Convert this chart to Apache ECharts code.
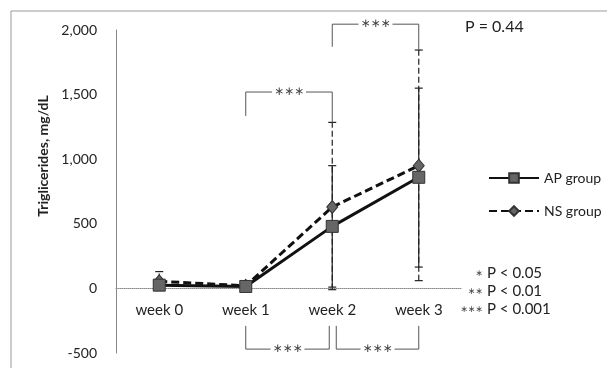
<!DOCTYPE html>
<html>
<head>
<meta charset="utf-8">
<script src="https://cdn.jsdelivr.net/npm/echarts@6/dist/echarts.min.js"></script>
<style>html,body{margin:0;padding:0;background:#fff}#c{width:607px;height:368px}</style>
</head>
<body>
<div id="c"></div>
<script>
const categories = ['week 0', 'week 1', 'week 2', 'week 3'];
const apMean = [25, 15, 480, 860];
const nsMean = [55, 20, 630, 950];
const apUpper = [60, 30, 950, 1550];
const apLower = [0, 5, 10, 165];
const nsUpper = [130, 40, 1285, 1845];
const nsLower = [0, 0, -10, 60];
const yTicks = [-500, 0, 500, 1000, 1500, 2000];
// significance brackets: from category, to category, bar level, left leg end, right leg end
const bracketFrom = [1, 2, 1, 2];
const bracketTo = [2, 3, 2, 3];
const bracketLevel = [1520, 2045, -470, -470];
const bracketLegLeft = [1335, 1870, -290, -290];
const bracketLegRight = [1285, 1845, -290, -290];
const bracketLabel = ['\u2217\u2217\u2217', '\u2217\u2217\u2217', '\u2217\u2217\u2217', '\u2217\u2217\u2217'];

const FONT = 'Lato';
const STAR_FONT = '"DejaVu Sans"';
const chart = echarts.init(document.getElementById('c'));

const GRID = { left: 116, right: 145, top: 30, bottom: 15 };
const yMin = yTicks[0], yMax = yTicks[yTicks.length - 1];
const gridH = 368 - GRID.top - GRID.bottom;
const zeroOffset = -gridH * (0 - yMin) / (yMax - yMin);

function errRender(dashed) {
  return function (params, api) {
    const i = api.value(0);
    const lo = api.coord([i, api.value(1)]);
    const hi = api.coord([i, api.value(2)]);
    const hw = 4;
    const st = { stroke: '#222', lineWidth: 1.2, lineDash: dashed ? [6, 3] : null };
    const cst = { stroke: '#222', lineWidth: 1.2 };
    return {
      type: 'group',
      children: [
        { type: 'line', shape: { x1: lo[0], y1: lo[1], x2: hi[0], y2: hi[1] }, style: st },
        { type: 'line', shape: { x1: hi[0] - hw, y1: hi[1], x2: hi[0] + hw, y2: hi[1] }, style: cst },
        { type: 'line', shape: { x1: lo[0] - hw, y1: lo[1], x2: lo[0] + hw, y2: lo[1] }, style: cst }
      ]
    };
  };
}

function bracketRender(params, api) {
  const idx = params.dataIndex;
  const f = api.value(0), t = api.value(1);
  const lvl = api.value(2), ll = api.value(3), lr = api.value(4);
  const a = api.coord([f, lvl]);
  const b = api.coord([t, lvl]);
  const la = api.coord([f, ll]);
  const lb = api.coord([t, lr]);
  let xa = a[0], xb = b[0];
  if (lvl < 0) {
    if (f === 2) xa += 4;
    if (t === 2) xb -= 3;
  }
  const mid = (xa + xb) / 2;
  const gap = 17;
  const st = { stroke: '#555', lineWidth: 1 };
  return {
    type: 'group',
    children: [
      { type: 'line', shape: { x1: xa, y1: a[1], x2: xa, y2: la[1] }, style: st },
      { type: 'line', shape: { x1: xb, y1: b[1], x2: xb, y2: lb[1] }, style: st },
      { type: 'line', shape: { x1: xa, y1: a[1], x2: mid - gap, y2: a[1] }, style: st },
      { type: 'line', shape: { x1: mid + gap, y1: a[1], x2: xb, y2: a[1] }, style: st },
      { type: 'text', x: mid, y: a[1], style: { text: bracketLabel[idx], fill: '#444', font: '12px ' + STAR_FONT, align: 'center', verticalAlign: 'middle' } }
    ]
  };
}

const starStyle = (t, x, y) => ({ type: 'text', x: x, y: y, style: { text: t, font: '9px ' + STAR_FONT, fill: '#444', align: 'right', verticalAlign: 'middle' } });

const option = {
  backgroundColor: '#fff',
  animation: false,
  grid: { left: GRID.left, right: GRID.right, top: GRID.top, bottom: GRID.bottom, containLabel: false, outerBoundsMode: 'none' },
  legend: {
    orient: 'vertical',
    left: 483,
    top: 166,
    itemWidth: 50,
    itemHeight: 12,
    itemGap: 19,
    textStyle: { fontFamily: FONT, fontSize: 14, color: '#222' },
    data: ['AP group', 'NS group']
  },
  xAxis: {
    type: 'category',
    data: categories,
    boundaryGap: true,
    offset: zeroOffset,
    axisLine: { onZero: false, lineStyle: { color: '#888', type: 'dotted', width: 1 } },
    axisTick: { show: false },
    axisLabel: { fontFamily: FONT, fontSize: 15, color: '#222', margin: 14 }
  },
  yAxis: {
    type: 'value',
    min: yMin,
    max: yMax,
    interval: 500,
    axisLine: { show: true, lineStyle: { color: '#888', width: 1 } },
    axisTick: { show: false },
    splitLine: { show: false },
    axisLabel: {
      fontFamily: FONT, fontSize: 14, color: '#222', margin: 19,
      formatter: v => v.toLocaleString('en-US')
    }
  },
  graphic: [
    { type: 'line', shape: { x1: 11, y1: 11, x2: 607, y2: 11 }, style: { stroke: '#999', lineWidth: 1 } },
    { type: 'line', shape: { x1: 11, y1: 11, x2: 11, y2: 368 }, style: { stroke: '#999', lineWidth: 1 } },
    { type: 'text', x: 43, y: 156, rotation: Math.PI / 2, style: { text: 'Triglicerides, mg/dL', font: 'bold 14px ' + FONT, fill: '#222', align: 'center', verticalAlign: 'middle' } },
    { type: 'text', x: 465, y: 27, style: { text: 'P = 0.44', font: '16px ' + FONT, fill: '#222', verticalAlign: 'middle' } },
    starStyle('\u2217', 483, 274),
    starStyle('\u2217\u2217', 483, 292),
    starStyle('\u2217\u2217\u2217', 483, 310),
    { type: 'text', x: 487, y: 273, style: { text: 'P < 0.05', font: '15px ' + FONT, fill: '#222', verticalAlign: 'middle' } },
    { type: 'text', x: 487, y: 291, style: { text: 'P < 0.01', font: '15px ' + FONT, fill: '#222', verticalAlign: 'middle' } },
    { type: 'text', x: 487, y: 309, style: { text: 'P < 0.001', font: '15px ' + FONT, fill: '#222', verticalAlign: 'middle' } }
  ],
  series: [
    {
      type: 'custom', name: 'apErr', z: 1,
      renderItem: errRender(false),
      encode: { x: 0, y: [1, 2] },
      data: categories.map((c, i) => [i, apLower[i], apUpper[i]])
    },
    {
      type: 'custom', name: 'nsErr', z: 1,
      renderItem: errRender(true),
      encode: { x: 0, y: [1, 2] },
      data: categories.map((c, i) => [i, nsLower[i], nsUpper[i]])
    },
    {
      type: 'custom', name: 'brackets', z: 1,
      renderItem: bracketRender,
      encode: { x: 0, y: 2 },
      data: bracketFrom.map((f, i) => [f, bracketTo[i], bracketLevel[i], bracketLegLeft[i], bracketLegRight[i]])
    },
    {
      name: 'NS group', type: 'line', z: 3,
      data: nsMean,
      symbol: 'diamond', symbolSize: [11, 13],
      lineStyle: { color: '#111', width: 3, type: [8, 4] },
      itemStyle: { color: '#666', borderColor: '#333', borderWidth: 1 }
    },
    {
      name: 'AP group', type: 'line', z: 4,
      data: apMean,
      symbol: 'rect', symbolSize: 12,
      lineStyle: { color: '#111', width: 3 },
      itemStyle: { color: '#666', borderColor: '#333', borderWidth: 1 }
    }
  ]
};
chart.setOption(option);
</script>
</body>
</html>
